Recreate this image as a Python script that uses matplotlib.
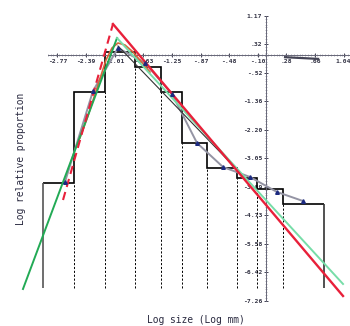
import matplotlib
matplotlib.use('Agg')
import matplotlib.pyplot as plt
import numpy as np
from matplotlib.ticker import FixedLocator

# ---- data ----
bin_edges = [-2.963, -2.550, -2.137, -1.738, -1.391, -1.112, -0.779, -0.379, -0.113, 0.233, 0.779]
bin_heights = [-3.772, -1.080, 0.104, -0.340, -1.080, -2.589, -3.328, -3.624, -3.950, -4.393]
baseline = -6.88

obs_x = [-2.670, -2.297, -1.964, -1.605, -1.245, -0.912, -0.566, -0.206, 0.153, 0.499]
obs_y = [-3.743, -1.050, 0.222, -0.222, -1.139, -2.589, -3.299, -3.595, -4.038, -4.305]

red_left_x = [-2.696, -2.031]
red_left_y = [-4.275, 0.932]
red_right_x = [-2.031, 1.032]
red_right_y = [0.932, -7.115]

green_left_x = [-3.229, -1.977]
green_left_y = [-6.908, 0.518]
green_right_x = [-1.977, 1.032]
green_right_y = [0.518, -6.760]

black_x = [-1.964, -0.273]
black_y = [0.281, -3.624]

orange_x = [-2.471, -2.364, -2.231, -2.124, -2.044, -1.964, -1.871, -1.764, -1.538]
orange_y = [-2.441, -1.790, -0.873, -0.133, 0.222, 0.370, 0.311, 0.104, -0.488]

blob_x = [0.26, 0.70]
blob_y = [-0.05, -0.10]

xtick_vals = list(np.linspace(-2.77, 1.04, 11))
xtick_labels = ['-2.77', '-2.39', '-2.01', '-1.63', '-1.25', '-.87', '-.48', '-.10', '.28', '.66', '1.04']
ytick_vals = list(np.linspace(1.17, -7.26, 11))
ytick_labels = ['1.17', '.32', '-.52', '-1.36', '-2.20', '-3.05', '-3.89', '-4.73', '-5.58', '-6.42', '-7.26']

# ---- figure ----
fig = plt.figure(figsize=(3.5, 3.26), dpi=100)
ax = fig.add_axes([0, 0, 1, 1])
ax.set_xlim(-3.535, 1.125)
ax.set_ylim(-8.003, 1.642)
ax.patch.set_alpha(0)

# histogram outline
ax.stairs(bin_heights, bin_edges, baseline=None, color='black', lw=1.2, zorder=2)
ax.vlines([bin_edges[0]], baseline, bin_heights[0], color='#555555', lw=1.2, zorder=2)
ax.vlines([bin_edges[-1]], baseline, bin_heights[-1], color='#333333', lw=1.2, zorder=2)
inner = bin_edges[1:-1]
inner_tops = [min(bin_heights[i], bin_heights[i + 1]) for i in range(len(bin_heights) - 1)]
ax.vlines(inner, baseline, inner_tops, color='black', lw=0.7, linestyles=(0, (2.2, 1.8)), zorder=2)

# curves
ax.plot(obs_x, obs_y, color='#9494a4', lw=1.4, zorder=3)
ax.plot(obs_x, obs_y, ls='none', marker='^', ms=2.6, color='#1c2a80', zorder=7)
ax.plot(black_x, black_y, color='#333333', lw=0.8, zorder=4)
ax.plot(orange_x, orange_y, color='#d8643a', lw=1.2, zorder=4)
ax.plot(green_left_x, green_left_y, color='#22aa55', lw=1.4, zorder=5)
ax.plot(green_right_x, green_right_y, color='#77dda8', lw=1.4, zorder=5)
ax.plot(red_left_x, red_left_y, color='#e8203a', lw=1.5, ls=(0, (4, 2.5)), zorder=6)
ax.plot(red_right_x, red_right_y, color='#e8203a', lw=1.7, zorder=6)
ax.plot(blob_x, blob_y, color='#444455', lw=1.6, zorder=6)

# axes through origin
for s in ['top', 'right']:
    ax.spines[s].set_visible(False)
ax.spines['left'].set_position(('data', 0))
ax.spines['bottom'].set_position(('data', 0))
ax.spines['left'].set_bounds(-7.26, 1.17)
ax.spines['bottom'].set_bounds(-2.9, 1.125)
for s in ['left', 'bottom']:
    ax.spines[s].set_color('#666677')
    ax.spines[s].set_linewidth(0.7)

ax.set_xticks(xtick_vals)
ax.set_xticklabels(xtick_labels)
ax.set_yticks(ytick_vals)
ax.set_yticklabels(ytick_labels)
x_minor_step = (xtick_vals[1] - xtick_vals[0]) / 10
y_minor_step = (ytick_vals[0] - ytick_vals[1]) / 10
ax.xaxis.set_minor_locator(FixedLocator(np.arange(-2.9, 1.125, x_minor_step)))
ax.yaxis.set_minor_locator(FixedLocator(np.arange(-7.26, 1.171, y_minor_step)))
ax.tick_params(which='major', direction='inout', length=3.5, width=0.7, color='#444455',
               labelsize=4.6, pad=0.5, labelcolor='#333344')
ax.tick_params(which='minor', direction='inout', length=1.4, width=0.4, color='#777788')
for lab in ax.get_xticklabels() + ax.get_yticklabels():
    lab.set_family('DejaVu Sans Mono')
    lab.set_fontweight('bold')

fig.text(196 / 350, 1 - 320 / 326, 'Log size (Log mm)', ha='center', va='center',
         fontsize=6.9, family='DejaVu Sans Mono', color='#2a2a40')
fig.text(21 / 350, 1 - 159 / 326, 'Log relative proportion', ha='center', va='center',
         rotation=90, fontsize=6.9, family='DejaVu Sans Mono', color='#2a2a40')

fig.savefig('out.png', dpi=100, facecolor='white')
